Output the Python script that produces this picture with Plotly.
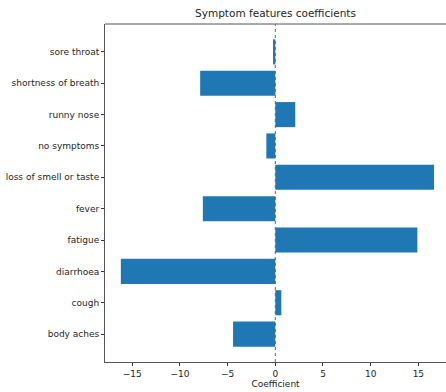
import plotly.graph_objects as go

symptoms = ["body aches", "cough", "diarrhoea", "fatigue", "fever",
            "loss of smell or taste", "no symptoms", "runny nose",
            "shortness of breath", "sore throat"]
coefficients = [-4.43, 0.63, -16.2, 14.9, -7.6, 16.65, -0.94, 2.09, -7.88, -0.24]

x_tickvals = [-15, -10, -5, 0, 5, 10, 15]
x_ticktext = ["\u221215", "\u221210", "\u22125", "0", "5", "10", "15"]

fig = go.Figure()
fig.add_trace(go.Bar(
    x=coefficients, y=symptoms, orientation="h",
    width=0.8,
    marker=dict(color="#1f77b4", line=dict(width=0)),
))
fig.add_vline(x=0, line=dict(color="#666666", width=1, dash="dot"))

fig.update_layout(
    width=446, height=392,
    margin=dict(l=105, r=0, t=24, b=30),
    paper_bgcolor="white", plot_bgcolor="white",
    font=dict(family="DejaVu Sans", size=9, color="#262626"),
    showlegend=False,
    title=dict(text="Symptom features coefficients", x=0.5, xref="paper",
               xanchor="center", y=1, yref="container", yanchor="top",
               pad=dict(t=10), font=dict(size=10.5, color="#262626")),
    bargap=0.2,
)
fig.update_xaxes(
    range=[-17.86, 17.9], tickvals=x_tickvals, ticktext=x_ticktext,
    ticks="outside", ticklen=3, tickcolor="#333", tickwidth=1,
    showline=True, linecolor="#555", linewidth=1, mirror=False,
    showgrid=False, zeroline=False,
    title=dict(text="Coefficient", standoff=2, font=dict(size=9)),
)
fig.update_yaxes(
    type="category", categoryorder="array", categoryarray=symptoms,
    range=[-0.89, 9.89],
    ticks="outside", ticklen=3, tickcolor="#333", tickwidth=1,
    showline=True, linecolor="#555", linewidth=1, mirror=False,
    showgrid=False, zeroline=False,
)
# top spine
fig.add_shape(type="line", xref="paper", yref="paper", x0=0, x1=1, y0=1, y1=1,
              line=dict(color="#555", width=1))

fig.write_html("out.html")
